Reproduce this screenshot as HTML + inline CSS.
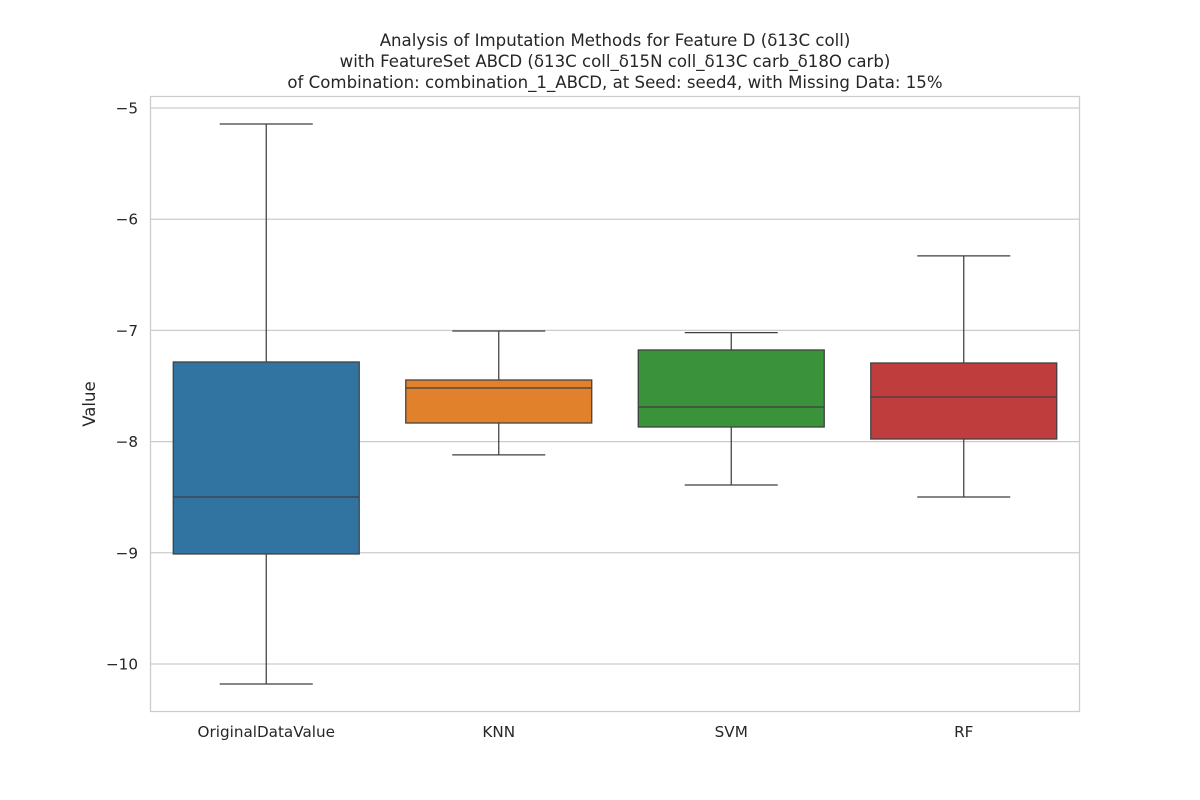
<!DOCTYPE html>
<html><head><meta charset="utf-8"><style>
body{margin:0;background:#fff}
svg{display:block;font-family:"DejaVu Sans","Liberation Sans",sans-serif}
</style></head><body>
<svg id="chart" width="1200" height="800" xmlns="http://www.w3.org/2000/svg">
<rect width="1200" height="800" fill="#fff"/>
<g id="title" font-size="16.6" fill="#262626" text-anchor="middle">
<text x="615" y="46">Analysis of Imputation Methods for Feature D (δ13C coll)</text>
<text x="615" y="67">with FeatureSet ABCD (δ13C coll_δ15N coll_δ13C carb_δ18O carb)</text>
<text x="615" y="88">of Combination: combination_1_ABCD, at Seed: seed4, with Missing Data: 15%</text>
</g>
<g id="grid"></g>
<g id="boxes"></g>
<g id="yticks"></g>
<g id="xticks"></g>
<rect x="150.5" y="96.5" width="929" height="615" fill="none" stroke="#cccccc" stroke-width="1.25"/>
<text x="95" y="404" font-size="16.6" fill="#262626" text-anchor="middle" transform="rotate(-90 95 404)">Value</text>
</svg>
<script>
const categories=["OriginalDataValue","KNN","SVM","RF"];
const whiskerHigh=[-5.144,-7.005,-7.02,-6.33];
const q3=[-7.284,-7.446,-7.176,-7.293];
const medians=[-8.498,-7.518,-7.689,-7.599];
const q1=[-9.011,-7.833,-7.869,-7.977];
const whiskerLow=[-10.18,-8.12,-8.39,-8.498];
const yTicks=[-5,-6,-7,-8,-9,-10];
const yTickLabels=["−5","−6","−7","−8","−9","−10"];
const colors=["#3274a1","#e1812c","#3a923a","#c03d3e"];
const L=150,R=1080,T=96,B=712,yMax=-4.892,yMin=-10.432;
const ns="http://www.w3.org/2000/svg";
function y(v){return T+(yMax-v)/(yMax-yMin)*(B-T);}
const band=(R-L)/categories.length;
function xc(i){return L+band*(i+0.5);}
function mk(tag,attrs,parent){const e=document.createElementNS(ns,tag);for(const k in attrs)e.setAttribute(k,attrs[k]);parent.appendChild(e);return e;}
const grid=document.getElementById('grid'),yt=document.getElementById('yticks'),xt=document.getElementById('xticks'),bx=document.getElementById('boxes');
yTicks.forEach((t,i)=>{
 const l=mk('line',{x1:L,x2:R,y1:y(t),y2:y(t),stroke:'#cccccc','stroke-width':1.25},grid);
 
 
 const tx=mk('text',{x:L-12,y:y(t)+5.5,'font-size':15.2,fill:'#262626','text-anchor':'end'},yt);
 tx.textContent=yTickLabels[i];
 
 
});
categories.forEach((c,i)=>{
 const cx=xc(i),w=band*0.8,cap=w/2,s='#3f3f3f';
 const g=mk('g',{},bx);
 
 
 mk('line',{x1:cx,x2:cx,y1:y(whiskerHigh[i]),y2:y(q3[i]),stroke:s,'stroke-width':1.25},g);
 mk('line',{x1:cx,x2:cx,y1:y(q1[i]),y2:y(whiskerLow[i]),stroke:s,'stroke-width':1.25},g);
 mk('line',{x1:cx-cap/2,x2:cx+cap/2,y1:y(whiskerHigh[i]),y2:y(whiskerHigh[i]),stroke:s,'stroke-width':1.25},g);
 mk('line',{x1:cx-cap/2,x2:cx+cap/2,y1:y(whiskerLow[i]),y2:y(whiskerLow[i]),stroke:s,'stroke-width':1.25},g);
 mk('rect',{x:cx-w/2,y:y(q3[i]),width:w,height:y(q1[i])-y(q3[i]),fill:colors[i],stroke:s,'stroke-width':1.25},g);
 mk('line',{x1:cx-w/2,x2:cx+w/2,y1:y(medians[i]),y2:y(medians[i]),stroke:s,'stroke-width':1.25},g);
 const tx=mk('text',{x:cx,y:B+25,'font-size':15.2,fill:'#262626','text-anchor':'middle'},xt);
 tx.textContent=c;
 
 
});
</script>
</body></html>
